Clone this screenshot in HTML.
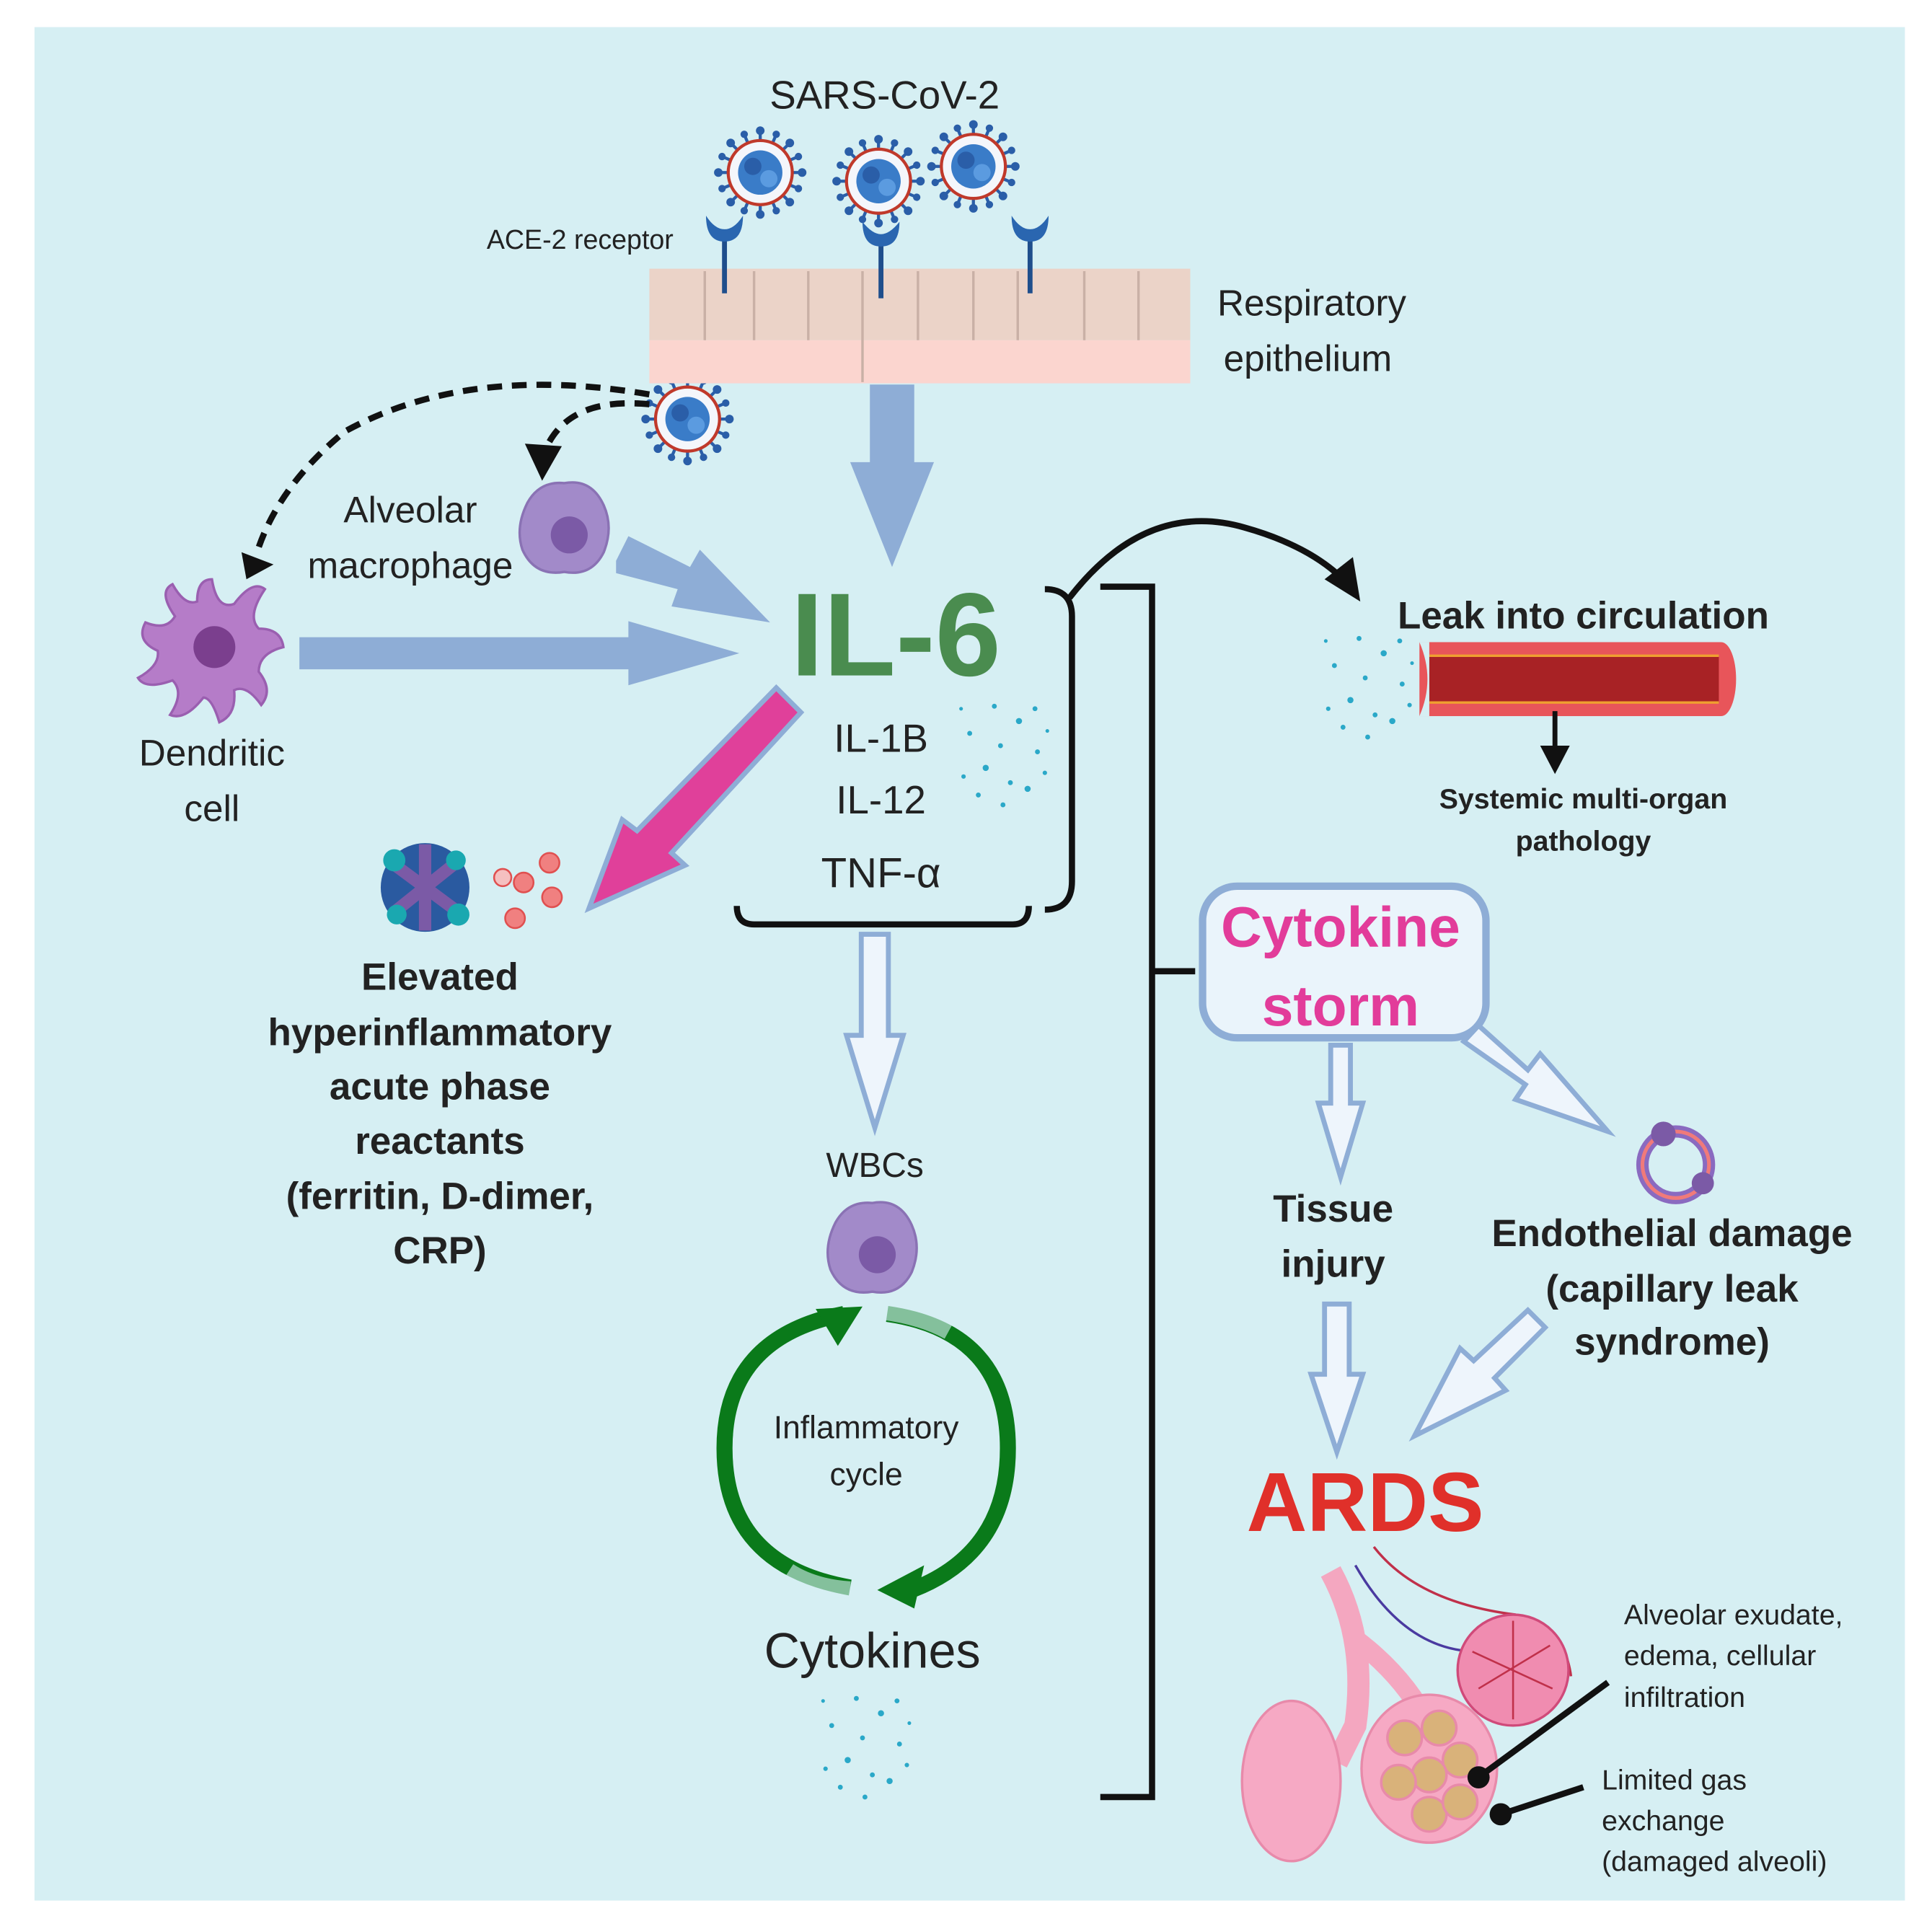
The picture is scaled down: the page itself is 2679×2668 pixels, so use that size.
<!DOCTYPE html>
<html><head><meta charset="utf-8"><style>
html,body{margin:0;padding:0;background:#fff;}
svg{display:block;}
text{font-family:"Liberation Sans",sans-serif;}
</style></head><body>
<svg width="2679" height="2668" viewBox="0 0 1568 1561" preserveAspectRatio="none" xmlns="http://www.w3.org/2000/svg">
<defs>
<g id="virus">
  <g stroke="#2a5ea8" stroke-width="2.5">
    <line x1="0" y1="-34" x2="0" y2="34"/><line x1="-34" y1="0" x2="34" y2="0"/>
    <line x1="-24" y1="-24" x2="24" y2="24"/><line x1="-24" y1="24" x2="24" y2="-24"/>
    <line x1="-13" y1="-31" x2="13" y2="31"/><line x1="13" y1="-31" x2="-13" y2="31"/>
    <line x1="-31" y1="-13" x2="31" y2="13"/><line x1="-31" y1="13" x2="31" y2="-13"/>
  </g>
  <g fill="#2a5ea8">
    <circle cx="0" cy="-34" r="3.5"/><circle cx="0" cy="34" r="3.5"/><circle cx="-34" cy="0" r="3.5"/><circle cx="34" cy="0" r="3.5"/>
    <circle cx="24" cy="24" r="3.5"/><circle cx="-24" cy="-24" r="3.5"/><circle cx="-24" cy="24" r="3.5"/><circle cx="24" cy="-24" r="3.5"/>
    <circle cx="13" cy="31" r="3"/><circle cx="-13" cy="31" r="3"/><circle cx="13" cy="-31" r="3"/><circle cx="-13" cy="-31" r="3"/>
    <circle cx="31" cy="13" r="3"/><circle cx="-31" cy="13" r="3"/><circle cx="31" cy="-13" r="3"/><circle cx="-31" cy="-13" r="3"/>
  </g>
  <circle r="26" fill="#f4f6fb" stroke="#c0392b" stroke-width="2.5"/>
  <circle r="18" fill="#3a7cc8"/>
  <circle cx="-6" cy="-5" r="7" fill="#2a5ea8"/><circle cx="7" cy="5" r="7" fill="#5b9be0"/>
</g>
<g id="cell">
  <path d="M-30,-20 Q-20,-38 0,-36 Q22,-40 32,-18 Q40,0 32,20 Q22,40 0,36 Q-24,40 -34,18 Q-40,0 -30,-20Z" fill="#a28ac9" stroke="#8a72b4" stroke-width="2"/>
  <circle cx="4" cy="6" r="15" fill="#7b5aa6"/>
</g>
<g id="dots" fill="#2aa8c8">
  <circle cx="0" cy="0" r="2"/><circle cx="15" cy="-20" r="2.5"/><circle cx="30" cy="5" r="2"/><circle cx="-12" cy="18" r="2.5"/>
  <circle cx="8" cy="30" r="2"/><circle cx="28" cy="-30" r="2"/><circle cx="-25" cy="-10" r="2"/><circle cx="-18" cy="40" r="2"/>
  <circle cx="22" cy="35" r="2.5"/><circle cx="-30" cy="25" r="1.8"/><circle cx="36" cy="22" r="1.8"/><circle cx="-5" cy="-32" r="2"/>
  <circle cx="2" cy="48" r="2"/><circle cx="-32" cy="-30" r="1.5"/><circle cx="38" cy="-12" r="1.5"/>
</g>
</defs>
<rect x="28" y="22" width="1518" height="1520" fill="#d6eff3"/>

<text x="718" y="88" font-size="32" text-anchor="middle" fill="#222">SARS-CoV-2</text>
<use href="#virus" x="617" y="140"/><use href="#virus" x="713" y="147"/><use href="#virus" x="790" y="135"/>
<use href="#virus" x="558" y="340"/>

<rect x="527" y="218" width="439" height="58" fill="#ebd3c8"/>
<rect x="527" y="276" width="439" height="35" fill="#fbd5cf"/>
<g stroke="#c9b0a6" stroke-width="2">
<line x1="572" y1="220" x2="572" y2="276"/><line x1="612" y1="220" x2="612" y2="276"/><line x1="656" y1="220" x2="656" y2="276"/><line x1="700" y1="220" x2="700" y2="310"/><line x1="745" y1="220" x2="745" y2="276"/><line x1="790" y1="220" x2="790" y2="276"/><line x1="826" y1="220" x2="826" y2="276"/><line x1="880" y1="220" x2="880" y2="276"/><line x1="924" y1="220" x2="924" y2="276"/>
</g>
<g stroke="#1f4e8c" stroke-width="4" fill="none">
<line x1="588" y1="192" x2="588" y2="238"/><line x1="715" y1="192" x2="715" y2="242"/><line x1="836" y1="192" x2="836" y2="238"/>
</g>
<g fill="#2a66b0">
<path d="M573,175 Q573,196 588,196 Q603,196 603,175 Q596,186 588,186 Q580,186 573,175Z"/>
<path d="M700,180 Q700,200 715,200 Q730,200 730,180 Q722,190 715,190 Q708,190 700,180Z"/>
<path d="M821,175 Q821,196 836,196 Q851,196 851,175 Q844,186 836,186 Q828,186 821,175Z"/>
</g>
<text x="395" y="202" font-size="22" fill="#222">ACE-2 receptor</text>
<text x="988" y="256" font-size="30" fill="#222">Respiratory</text>
<text x="993" y="301" font-size="30" fill="#222">epithelium</text>

<polygon points="706,312 742,312 742,375 758,375 724,460 690,375 706,375" fill="#8eadd6"/>

<path d="M527,320 Q380,295 280,350 Q225,395 208,450" fill="none" stroke="#111" stroke-width="5" stroke-dasharray="12,8"/>
<polygon points="196,448 222,458 200,470" fill="#111"/>
<path d="M527,328 Q465,322 445,360" fill="none" stroke="#111" stroke-width="5" stroke-dasharray="12,8"/>
<polygon points="426,360 456,362 440,390" fill="#111"/>

<text x="333" y="424" font-size="30" text-anchor="middle" fill="#222">Alveolar</text>
<text x="333" y="469" font-size="30" text-anchor="middle" fill="#222">macrophage</text>
<use href="#cell" x="458" y="428"/>

<polygon points="500,455 510,435 560,460 568,446 625,505 545,492 550,478 500,465" fill="#8eadd6"/>

<g fill="#b57cc8" stroke="#9a5fb0" stroke-width="2">
<path d="M172,470 Q176,495 190,490 Q205,470 215,478 Q200,500 210,510 Q228,510 230,525 Q210,530 210,545 Q222,560 212,572 Q200,555 190,560 Q192,580 178,586 Q172,566 165,566 Q150,585 138,580 Q150,562 140,552 Q118,560 112,550 Q130,540 128,528 Q110,520 118,505 Q135,512 142,500 Q128,480 140,474 Q150,492 160,488 Q160,470 172,470Z"/>
</g>
<circle cx="174" cy="525" r="17" fill="#7b3f8e"/>
<text x="172" y="621" font-size="30" text-anchor="middle" fill="#222">Dendritic</text>
<text x="172" y="666" font-size="30" text-anchor="middle" fill="#222">cell</text>

<polygon points="243,517 510,517 510,504 600,530 510,556 510,543 243,543" fill="#8eadd6"/>

<text x="727" y="548" font-size="96" font-weight="bold" text-anchor="middle" fill="#4a8c4f">IL-6</text>
<text x="715" y="610" font-size="32" text-anchor="middle" fill="#222">IL-1B</text>
<text x="715" y="660" font-size="32" text-anchor="middle" fill="#222">IL-12</text>
<text x="715" y="720" font-size="34" text-anchor="middle" fill="#222">TNF-α</text>
<use href="#dots" x="812" y="605"/>

<path d="M598,735 Q598,750 612,750 L822,750 Q835,750 835,735" fill="none" stroke="#111" stroke-width="5"/>
<path d="M848,478 Q870,478 870,500 L870,715 Q870,738 848,738" fill="none" stroke="#111" stroke-width="5"/>

<polygon points="630,558 650,578 545,692 556,702 478,737 505,665 517,674" fill="#e0409a" stroke="#8eadd6" stroke-width="4"/>

<g>
<circle cx="345" cy="720" r="36" fill="#2a5aa0"/>
<path d="M318,700 L372,740 M320,740 L370,700 M345,685 L345,755" stroke="#7b5aa6" stroke-width="10"/>
<circle cx="320" cy="698" r="9" fill="#1aa8b0"/><circle cx="372" cy="742" r="9" fill="#1aa8b0"/><circle cx="370" cy="698" r="8" fill="#1aa8b0"/><circle cx="322" cy="742" r="8" fill="#1aa8b0"/>
</g>
<g fill="#f08080" stroke="#e05050" stroke-width="1.5">
<circle cx="446" cy="700" r="8"/><circle cx="425" cy="716" r="8"/><circle cx="448" cy="728" r="8"/><circle cx="418" cy="745" r="8"/><circle cx="408" cy="712" r="7" fill="#f5c0c0"/>
</g>
<g font-size="31" font-weight="bold" text-anchor="middle" fill="#222">
<text x="357" y="803">Elevated</text>
<text x="357" y="848">hyperinflammatory</text>
<text x="357" y="892">acute phase</text>
<text x="357" y="936">reactants</text>
<text x="357" y="981">(ferritin, D-dimer,</text>
<text x="357" y="1025">CRP)</text>
</g>

<polygon points="699,758 721,758 721,840 733,840 710,915 687,840 699,840" fill="#eef5fc" stroke="#8eadd6" stroke-width="4"/>
<text x="710" y="955" font-size="28" text-anchor="middle" fill="#222">WBCs</text>
<use href="#cell" x="708" y="1012"/>

<path d="M685,1066 Q588,1085 588,1175 Q588,1270 690,1288" fill="none" stroke="#0a7a1a" stroke-width="13"/>
<path d="M640,1275 Q660,1288 690,1290" fill="none" stroke="#d6eff3" stroke-opacity="0.6" stroke-width="14"/>
<path d="M720,1066 Q818,1080 818,1175 Q818,1260 740,1290" fill="none" stroke="#0a7a1a" stroke-width="13"/>
<path d="M718,1064 Q748,1068 770,1080" fill="none" stroke="#d6eff3" stroke-opacity="0.6" stroke-width="14"/>
<polygon points="662,1062 700,1060 680,1092" fill="#0a7a1a"/>
<polygon points="712,1290 750,1270 742,1305" fill="#0a7a1a"/>
<text x="703" y="1167" font-size="26" text-anchor="middle" fill="#222">Inflammatory</text>
<text x="703" y="1205" font-size="26" text-anchor="middle" fill="#222">cycle</text>
<text x="708" y="1353" font-size="40" text-anchor="middle" fill="#222">Cytokines</text>
<use href="#dots" x="700" y="1410"/>

<path d="M893,476 L935,476 L935,1458 L893,1458 M935,788 L970,788" fill="none" stroke="#111" stroke-width="5"/>

<path d="M868,485 Q930,405 1010,428 Q1060,442 1088,468" fill="none" stroke="#111" stroke-width="5"/>
<polygon points="1075,470 1098,452 1104,488" fill="#111"/>
<text x="1285" y="510" font-size="31" font-weight="bold" text-anchor="middle" fill="#222">Leak into circulation</text>
<use href="#dots" x="1108" y="550"/>
<rect x="1152" y="521" width="245" height="60" fill="#e8555a"/>
<ellipse cx="1397" cy="551" rx="12" ry="30" fill="#e8555a"/>
<rect x="1160" y="532" width="235" height="38" fill="#a82225"/>
<line x1="1160" y1="532" x2="1395" y2="532" stroke="#f0a030" stroke-width="2"/>
<line x1="1160" y1="570" x2="1395" y2="570" stroke="#f0a030" stroke-width="2"/>
<path d="M1152,521 Q1165,551 1152,581 L1160,581 L1160,521Z" fill="#d6eff3"/>
<line x1="1262" y1="577" x2="1262" y2="610" stroke="#111" stroke-width="4"/>
<polygon points="1250,605 1274,605 1262,628" fill="#111"/>
<text x="1285" y="656" font-size="23" font-weight="bold" text-anchor="middle" fill="#222">Systemic multi-organ</text>
<text x="1285" y="690" font-size="23" font-weight="bold" text-anchor="middle" fill="#222">pathology</text>

<rect x="976" y="719" width="230" height="123" rx="28" fill="#eaf4fb" stroke="#8eadd6" stroke-width="6"/>
<text x="1088" y="768" font-size="46" font-weight="bold" text-anchor="middle" fill="#e23c9a">Cytokine</text>
<text x="1088" y="832" font-size="46" font-weight="bold" text-anchor="middle" fill="#e23c9a">storm</text>

<polygon points="1080,848 1096,848 1096,895 1106,895 1088,955 1070,895 1080,895" fill="#eef5fc" stroke="#8eadd6" stroke-width="4"/>
<polygon points="1188,845 1200,832 1240,868 1250,855 1305,918 1230,892 1238,880" fill="#eef5fc" stroke="#8eadd6" stroke-width="4"/>
<circle cx="1360" cy="945" r="27" fill="none" stroke="#8a6ac0" stroke-width="10"/>
<circle cx="1360" cy="945" r="27" fill="none" stroke="#f07a7a" stroke-width="3"/>
<circle cx="1350" cy="920" r="10" fill="#7b5aa6"/><circle cx="1382" cy="960" r="9" fill="#7b5aa6"/>

<g font-size="31" font-weight="bold" text-anchor="middle" fill="#222">
<text x="1082" y="991">Tissue</text>
<text x="1082" y="1036">injury</text>
<text x="1357" y="1011">Endothelial damage</text>
<text x="1357" y="1056">(capillary leak</text>
<text x="1357" y="1099">syndrome)</text>
</g>
<polygon points="1075,1058 1095,1058 1095,1115 1106,1115 1085,1178 1064,1115 1075,1115" fill="#eef5fc" stroke="#8eadd6" stroke-width="4"/>
<polygon points="1240,1063 1254,1077 1213,1118 1222,1128 1148,1165 1185,1094 1196,1104" fill="#eef5fc" stroke="#8eadd6" stroke-width="4"/>

<text x="1108" y="1242" font-size="68" font-weight="bold" text-anchor="middle" fill="#e0302a">ARDS</text>

<path d="M1080,1275 Q1110,1330 1100,1400 L1085,1430" fill="none" stroke="#f4a7c0" stroke-width="18"/>
<path d="M1100,1330 Q1140,1360 1160,1400" fill="none" stroke="#f4a7c0" stroke-width="16"/>
<path d="M1100,1270 Q1140,1340 1200,1340" fill="none" stroke="#4a3aa0" stroke-width="2"/>
<path d="M1115,1255 Q1150,1300 1230,1310 Q1270,1320 1275,1360" fill="none" stroke="#c0304a" stroke-width="2"/>
<ellipse cx="1228" cy="1355" rx="45" ry="45" fill="#f08cb0" stroke="#d04a7a" stroke-width="2"/>
<path d="M1195,1340 L1260,1370 M1200,1370 L1258,1335 M1228,1315 L1228,1395" stroke="#c0304a" stroke-width="1.5"/>
<ellipse cx="1048" cy="1445" rx="40" ry="65" fill="#f6a9c4" stroke="#e88aaa" stroke-width="2"/>
<ellipse cx="1160" cy="1435" rx="55" ry="60" fill="#f6a9c4" stroke="#e88aaa" stroke-width="2"/>
<g fill="#d9b27a" stroke="#e88aaa" stroke-width="2">
<circle cx="1140" cy="1410" r="14"/><circle cx="1168" cy="1402" r="14"/><circle cx="1185" cy="1428" r="14"/><circle cx="1160" cy="1440" r="14"/><circle cx="1135" cy="1446" r="14"/><circle cx="1160" cy="1472" r="14"/><circle cx="1185" cy="1462" r="14"/>
</g>
<line x1="1305" y1="1365" x2="1200" y2="1442" stroke="#111" stroke-width="5"/>
<circle cx="1200" cy="1442" r="9" fill="#111"/>
<line x1="1285" y1="1450" x2="1218" y2="1472" stroke="#111" stroke-width="5"/>
<circle cx="1218" cy="1472" r="9" fill="#111"/>
<g font-size="23" fill="#222">
<text x="1318" y="1318">Alveolar exudate,</text>
<text x="1318" y="1351">edema, cellular</text>
<text x="1318" y="1385">infiltration</text>
<text x="1300" y="1452">Limited gas</text>
<text x="1300" y="1485">exchange</text>
<text x="1300" y="1518">(damaged alveoli)</text>
</g>
</svg>
</body></html>
